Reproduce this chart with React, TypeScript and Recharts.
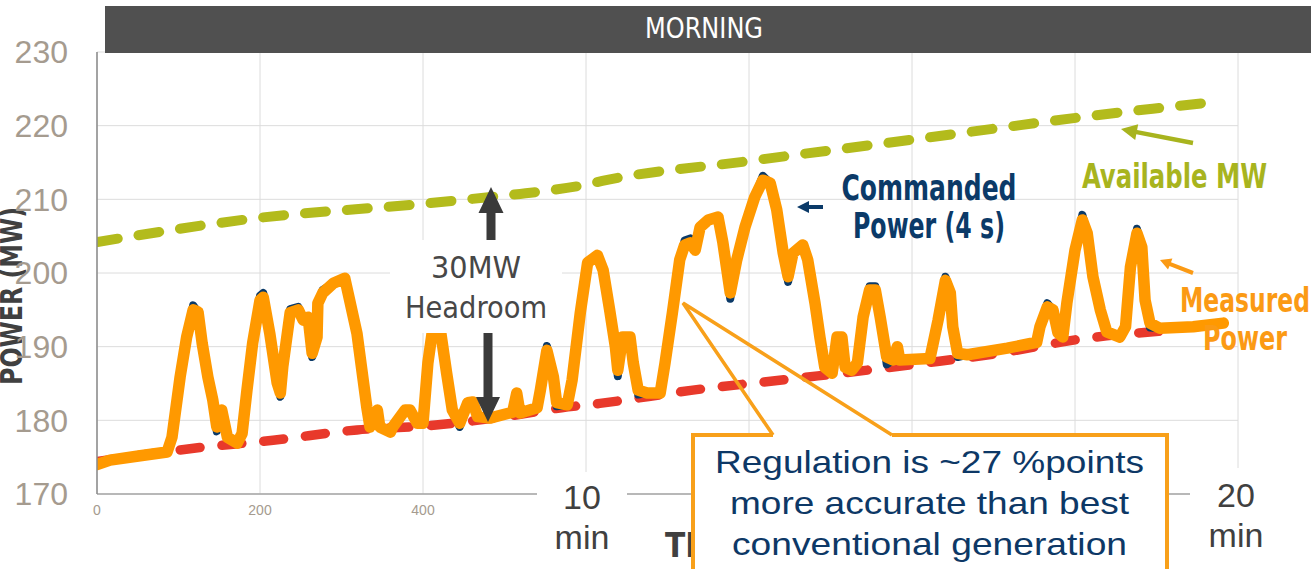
import React from "react";
import { LineChart, Line, XAxis, YAxis, CartesianGrid } from "recharts";

// ---- data -------------------------------------------------------------
// Time axis (seconds) shared by measured and commanded power
const timeSec = [
  0, 16, 53, 86, 92, 102, 110, 118, 124, 129, 136, 142, 147, 153, 160, 172, 178, 184, 191, 200,
  204, 212, 221, 225, 228, 237, 247, 253, 259, 264, 270, 271, 277, 290, 304, 310, 319, 325, 331, 335,
  344, 347, 360, 363, 378, 384, 393, 400, 406, 412, 421, 429, 436, 445, 455, 461, 467, 482, 510, 515,
  519, 540, 544, 552, 560, 564, 577, 583, 593, 602, 614, 621, 629, 636, 639, 645, 654, 658, 664, 675,
  691, 697, 706, 715, 721, 728, 734, 740, 750, 762, 768, 777, 785, 795, 807, 817, 826, 834, 842, 848,
  854, 866, 872, 881, 887, 893, 902, 908, 914, 918, 926, 933, 940, 948, 955, 961, 969, 977, 982, 985,
  1022, 1032, 1041, 1047, 1050, 1056, 1068, 1117, 1153, 1157, 1166, 1173, 1179, 1185, 1190, 1200, 1209, 1215, 1222, 1231,
  1239, 1255, 1262, 1268, 1276, 1282, 1286, 1292, 1304, 1345, 1382,
];

const measuredMW = [
  174.0, 174.6, 175.2, 175.7, 177.7, 185.9, 191.3, 195.0, 194.7, 190.5, 185.9, 182.8, 179.1, 181.4, 177.7, 176.9, 178.2, 184.1, 190.5, 196.3,
  196.7, 191.8, 185.1, 183.7, 187.3, 194.6, 195.0, 193.6, 194.0, 189.1, 191.3, 195.9, 197.3, 198.6, 199.3, 196.3, 191.8, 186.8, 181.8, 179.1,
  181.4, 179.1, 178.4, 179.1, 181.4, 181.4, 179.6, 179.6, 187.8, 192.5, 192.5, 186.4, 181.4, 179.6, 182.4, 182.5, 180.5, 180.3, 181.1, 183.7,
  181.0, 181.7, 184.1, 189.5, 185.9, 182.4, 182.1, 185.5, 194.6, 201.4, 202.4, 200.4, 195.0, 190.0, 186.8, 191.3, 191.3, 187.8, 184.1, 183.7,
  183.7, 187.8, 194.6, 201.8, 203.8, 204.1, 203.1, 206.2, 207.2, 207.6, 204.1, 197.3, 201.8, 206.2, 210.3, 212.6, 212.2, 208.6, 202.7, 199.5,
  202.7, 203.8, 201.8, 195.9, 191.3, 187.2, 186.4, 191.3, 191.3, 187.2, 186.8, 187.8, 194.0, 197.7, 197.7, 194.0, 188.6, 188.2, 190.0, 188.2,
  188.4, 193.6, 199.0, 197.3, 192.7, 189.1, 188.9, 189.8, 190.6, 192.7, 195.4, 195.0, 191.9, 191.3, 195.9, 203.1, 207.2, 205.4, 199.5, 195.0,
  192.0, 191.3, 192.7, 200.8, 205.4, 203.5, 196.3, 193.2, 192.5, 192.7, 193.2,
];

const commandedMW = [
  174.0, 174.6, 175.2, 175.7, 177.7, 185.9, 191.3, 195.6, 194.7, 190.5, 185.9, 182.8, 178.5, 181.4, 177.7, 176.9, 178.2, 184.1, 190.5, 196.9,
  197.3, 191.8, 185.1, 183.2, 187.3, 195.1, 195.4, 193.6, 194.0, 188.6, 191.3, 195.9, 197.7, 198.6, 199.3, 196.3, 191.8, 186.8, 181.8, 179.1,
  181.4, 179.1, 178.4, 179.1, 181.4, 181.4, 179.6, 179.6, 187.8, 192.5, 192.5, 186.4, 181.4, 179.1, 182.4, 182.5, 180.5, 180.3, 181.1, 183.7,
  181.0, 181.7, 184.1, 190.1, 185.9, 181.9, 182.1, 185.5, 194.6, 201.4, 202.4, 200.4, 195.0, 190.0, 186.0, 191.3, 191.3, 187.8, 183.5, 183.7,
  183.7, 187.8, 194.6, 201.8, 204.4, 204.7, 203.1, 206.2, 207.2, 207.6, 204.1, 196.5, 201.8, 206.2, 210.3, 213.2, 212.2, 208.6, 202.7, 198.8,
  202.7, 203.8, 201.8, 195.9, 191.3, 187.2, 186.4, 191.3, 191.3, 187.2, 186.8, 187.8, 194.0, 198.2, 198.2, 194.0, 187.6, 188.2, 190.0, 188.2,
  188.4, 193.6, 199.5, 197.3, 192.7, 188.6, 188.9, 189.8, 190.6, 192.7, 195.9, 195.0, 191.9, 191.3, 195.9, 203.1, 207.9, 205.4, 199.5, 195.0,
  192.0, 191.3, 192.7, 200.8, 206.0, 203.5, 196.3, 192.6, 192.5, 192.7, 193.2,
];

// Available capacity (upper limit)
const availTime = [0, 200, 400, 490, 540, 600, 620, 800, 1000, 1108, 1211, 1263, 1312, 1378];
const availMW = [204.2, 207.5, 209.4, 210.4, 211.0, 212.0, 212.5, 215.2, 218.1, 219.7, 221.2, 221.9, 222.5, 223.3];

// Base operating point (30 MW below available)
const baseTime = [0, 126, 216, 319, 409, 500, 570, 617, 731, 850, 1018, 1100, 1218, 1305];
const baseMW = [174.4, 176.3, 177.3, 178.7, 179.3, 180.5, 181.7, 182.3, 184.1, 185.6, 187.8, 189.0, 191.2, 192.1];

const xTicks = [0, 200, 400, 600, 800, 1000, 1200, 1400];
const xTickLabelsShown = [0, 200, 400];
const yTicks = [170, 180, 190, 200, 210, 220, 230];

const calloutLines = [
  "Regulation is ~27 %points",
  "more accurate than best",
  "conventional generation",
];

// ---- series tables ----------------------------------------------------
const measuredData = timeSec.map((t, i) => ({ t, v: measuredMW[i] }));
const commandedData = timeSec.map((t, i) => ({ t, v: commandedMW[i] }));
const availData = availTime.map((t, i) => ({ t, v: availMW[i] }));
const baseData = baseTime.map((t, i) => ({ t, v: baseMW[i] }));

// ---- styling ----------------------------------------------------------
const W = 1311;
const H = 569;
const NARROW = '"Liberation Sans Narrow", "Arial Narrow", "DejaVu Sans Condensed", sans-serif';
const SANS = '"Liberation Sans", Arial, sans-serif';
const ORANGE = "#ff9900";
const NAVY = "#0b3a68";
const GREEN = "#b3bb1c";
const GREEN_TEXT = "#a8b41e";
const RED = "#e8392b";
const DARK = "#404040";
const TICK = "#a59b8f";
const CALLOUT = "#f8a01a";

function arrow(tx: number, ty: number, sx: number, sy: number, headLen: number, headHalf: number, shaftHalf: number) {
  const dx = tx - sx;
  const dy = ty - sy;
  const len = Math.hypot(dx, dy);
  const ux = dx / len;
  const uy = dy / len;
  const nx = -uy;
  const ny = ux;
  const bx = tx - ux * headLen;
  const by = ty - uy * headLen;
  const pts = [
    [tx, ty],
    [bx + nx * headHalf, by + ny * headHalf],
    [bx + nx * shaftHalf, by + ny * shaftHalf],
    [sx + nx * shaftHalf, sy + ny * shaftHalf],
    [sx - nx * shaftHalf, sy - ny * shaftHalf],
    [bx - nx * shaftHalf, by - ny * shaftHalf],
    [bx - nx * headHalf, by - ny * headHalf],
  ];
  return pts.map((p) => `${p[0].toFixed(1)},${p[1].toFixed(1)}`).join(" ");
}

// x tick labels past 400 s sit under the time markers and the callout
function XTick(props: any) {
  const { x, y, payload } = props;
  if (!xTickLabelsShown.includes(payload.value)) return <g />;
  return (
    <text x={x} y={y} dy="0.71em" textAnchor="middle" fill={TICK} fontSize={14} fontFamily={SANS}>
      {payload.value}
    </text>
  );
}

export default function App() {
  return (
    <div style={{ position: "absolute", left: 0, top: 0, width: W, height: H, background: "#fff", overflow: "hidden" }}>
      {/* axis title sits beneath the tick labels */}
      <svg style={{ position: "absolute", left: 0, top: 0 }} width={W} height={H}>
        <text
          transform="translate(22,296) rotate(-90)"
          textAnchor="middle"
          fontFamily={NARROW}
          fontWeight="bold"
          fontSize={30}
          fill={DARK}
          textLength={178}
          lengthAdjust="spacingAndGlyphs"
        >
          POWER (MW)
        </text>
      </svg>

      <div style={{ position: "absolute", left: 0, top: 0 }}>
        <LineChart width={W} height={H} margin={{ top: 52, right: 73, bottom: 45, left: 37 }}>
          <CartesianGrid stroke="#dcdcdc" strokeWidth={1} />
          <XAxis
            dataKey="t"
            type="number"
            domain={[0, 1400]}
            ticks={xTicks}
            height={30}
            tickSize={0}
            tickMargin={11}
            tickLine={false}
            axisLine={{ stroke: "#a6a6a6", strokeWidth: 1.5 }}
            tick={<XTick />}
            allowDataOverflow
          />
          <YAxis
            type="number"
            domain={[170, 230]}
            ticks={yTicks}
            width={60}
            tickSize={0}
            tickMargin={29}
            tickLine={false}
            axisLine={{ stroke: "#8a8a8a", strokeWidth: 1.5 }}
            tick={{ fill: TICK, fontSize: 32, fontFamily: SANS }}
            allowDataOverflow
          />
          <Line
            data={baseData}
            dataKey="v"
            type="monotone"
            stroke={RED}
            strokeWidth={9.5}
            strokeDasharray="20 22"
            strokeLinecap="round"
            dot={false}
            activeDot={false}
            isAnimationActive={false}
          />
          <Line
            data={availData}
            dataKey="v"
            type="monotone"
            stroke={GREEN}
            strokeWidth={10}
            strokeDasharray="21 21"
            strokeLinecap="round"
            dot={false}
            activeDot={false}
            isAnimationActive={false}
          />
          <Line
            data={commandedData}
            dataKey="v"
            type="linear"
            stroke={NAVY}
            strokeWidth={8}
            strokeLinecap="round"
            strokeLinejoin="round"
            dot={false}
            activeDot={false}
            isAnimationActive={false}
          />
          <Line
            data={measuredData}
            dataKey="v"
            type="linear"
            stroke={ORANGE}
            strokeWidth={11.5}
            strokeLinecap="round"
            strokeLinejoin="round"
            dot={false}
            activeDot={false}
            isAnimationActive={false}
          />
        </LineChart>
      </div>

      {/* annotations */}
      <svg style={{ position: "absolute", left: 0, top: 0, pointerEvents: "none" }} width={W} height={H}>
        {/* header band */}
        <rect x={105} y={6} width={1206} height={47} fill="#505050" />
        <text x={704} y={38} textAnchor="middle" fontFamily={NARROW} fontSize={28} fill="#fff" textLength={118} lengthAdjust="spacingAndGlyphs">
          MORNING
        </text>

        {/* headroom label */}
        <rect x={390} y={240} width={172} height={93} fill="#fff" />
        <text x={476} y={278} textAnchor="middle" fontFamily={NARROW} fontSize={31} fill="#474747" textLength={90} lengthAdjust="spacingAndGlyphs">
          30MW
        </text>
        <text x={476} y={318} textAnchor="middle" fontFamily={NARROW} fontSize={31} fill="#474747" textLength={142} lengthAdjust="spacingAndGlyphs">
          Headroom
        </text>
        <polygon points={arrow(491, 187, 491, 240, 26, 12.5, 4.5)} fill="#3a3a3a" />
        <polygon points={arrow(488, 422, 488, 333, 25, 12, 4.5)} fill="#3a3a3a" />

        {/* commanded power label */}
        <text x={929} y={200} textAnchor="middle" fontFamily={NARROW} fontWeight="bold" fontSize={35} fill={NAVY} textLength={175} lengthAdjust="spacingAndGlyphs">
          Commanded
        </text>
        <text x={929} y={238} textAnchor="middle" fontFamily={NARROW} fontWeight="bold" fontSize={35} fill={NAVY} textLength={152} lengthAdjust="spacingAndGlyphs">
          Power (4 s)
        </text>
        <polygon points={arrow(797, 207, 823, 207, 12, 6, 2)} fill={NAVY} />

        {/* available MW label */}
        <text x={1174.5} y={188} textAnchor="middle" fontFamily={NARROW} fontWeight="bold" fontSize={33} fill={GREEN_TEXT} textLength={185} lengthAdjust="spacingAndGlyphs">
          Available MW
        </text>
        <polygon points={arrow(1121, 129, 1193, 143, 16, 8, 2.2)} fill={GREEN_TEXT} />

        {/* measured power label */}
        <text x={1245} y={312} textAnchor="middle" fontFamily={NARROW} fontWeight="bold" fontSize={34} fill="#fb9a14" textLength={130} lengthAdjust="spacingAndGlyphs">
          Measured
        </text>
        <text x={1245} y={350} textAnchor="middle" fontFamily={NARROW} fontWeight="bold" fontSize={34} fill="#fb9a14" textLength={84} lengthAdjust="spacingAndGlyphs">
          Power
        </text>
        <polygon points={arrow(1160, 260, 1193, 273, 11, 6, 2)} fill="#fb9a14" />

        {/* time markers */}
        <rect x={537} y={472} width={90} height={97} fill="#fff" />
        <text x={582} y={509} textAnchor="middle" fontFamily={SANS} fontSize={34} fill={DARK}>10</text>
        <text x={582} y={549} textAnchor="middle" fontFamily={SANS} fontSize={34} fill={DARK}>min</text>
        <rect x={1190} y={468} width={100} height={101} fill="#fff" />
        <text x={1236} y={507} textAnchor="middle" fontFamily={SANS} fontSize={34} fill={DARK}>20</text>
        <text x={1236} y={547} textAnchor="middle" fontFamily={SANS} fontSize={34} fill={DARK}>min</text>

        {/* x axis title, partly hidden by the callout */}
        <text x={665} y={557} fontFamily={NARROW} fontWeight="bold" fontSize={33} fill={DARK}>
          TIME (s)
        </text>

        {/* callout */}
        <rect x={693} y={435} width={474} height={140} fill="#fff" />
        <path d="M773,435 L693,435 L693,575 M892,435 L1167,435 L1167,575" fill="none" stroke={CALLOUT} strokeWidth={4} />
        <path d="M773,435 L683,303 L892,435" fill="none" stroke={CALLOUT} strokeWidth={3.5} strokeLinejoin="miter" />
        {calloutLines.map((line, i) => (
          <text
            key={line}
            x={929.5}
            y={473 + i * 41}
            textAnchor="middle"
            fontFamily={SANS}
            fontSize={32}
            fill="#0d3866"
            textLength={[429, 399, 395][i]}
            lengthAdjust="spacingAndGlyphs"
          >
            {line}
          </text>
        ))}
      </svg>
    </div>
  );
}
